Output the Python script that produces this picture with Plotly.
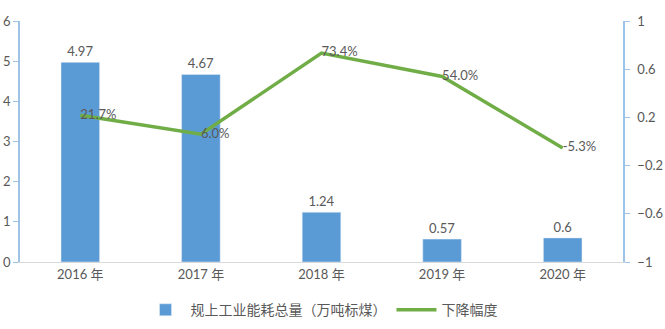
import plotly.graph_objects as go

years = ["2016 年", "2017 年", "2018 年", "2019 年", "2020 年"]
energy = [4.97, 4.67, 1.24, 0.57, 0.6]
decline = [0.217, 0.06, 0.734, 0.54, -0.053]
decline_labels = ["21.7%", "6.0%", "73.4%", "54.0%", "-5.3%"]
left_ticks = [0, 1, 2, 3, 4, 5, 6]
right_ticks = [1, 0.6, 0.2, -0.2, -0.6, -1]

FONT = "Lato, 'Noto Sans CJK SC', sans-serif"
TXT = "#595959"

fig = go.Figure()
fig.add_trace(go.Bar(
    x=years, y=energy, name="规上工业能耗总量（万吨标煤）",
    marker_color="#5B9BD5", width=0.32,
    text=[str(v) for v in energy], textposition="outside",
    textfont=dict(color=TXT, size=13), cliponaxis=False,
))
fig.add_trace(go.Scatter(
    x=years, y=decline, name="下降幅度", yaxis="y2",
    mode="lines+text", line=dict(color="#70AD47", width=3.5),
    text=decline_labels, textposition="middle right",
    textfont=dict(color=TXT, size=13), cliponaxis=False,
))

fig.update_layout(
    width=665, height=329,
    margin=dict(l=20, r=42, t=21, b=67, autoexpand=False),
    paper_bgcolor="white", plot_bgcolor="white",
    font=dict(family=FONT, color=TXT, size=13),
    showlegend=True,
    legend=dict(orientation="h", x=0.5, xanchor="center", y=-0.2, yanchor="middle",
                font=dict(size=14, color=TXT), itemwidth=40),
    bargap=0.5,
    xaxis=dict(range=[-0.5, 4.5], showline=True, linecolor="#D9D9D9", linewidth=1,
               ticks="", tickfont=dict(size=13, color=TXT), showgrid=False),
    yaxis=dict(range=[0, 6], tickvals=left_ticks, showgrid=False, zeroline=False,
               showline=True, linecolor="#9DC3E6", linewidth=1.5,
               ticks="outside", ticklen=5, tickcolor="#9DC3E6",
               tickfont=dict(size=13, color=TXT)),
    yaxis2=dict(range=[-1, 1], tickvals=right_ticks, overlaying="y", side="right",
                showgrid=False, zeroline=False, showline=True, linecolor="#9DC3E6",
                linewidth=1.5, ticks="outside", ticklen=5, tickcolor="#9DC3E6",
                ticklabelstandoff=5, tickfont=dict(size=13, color=TXT)),
)

fig.write_html("out.html")
